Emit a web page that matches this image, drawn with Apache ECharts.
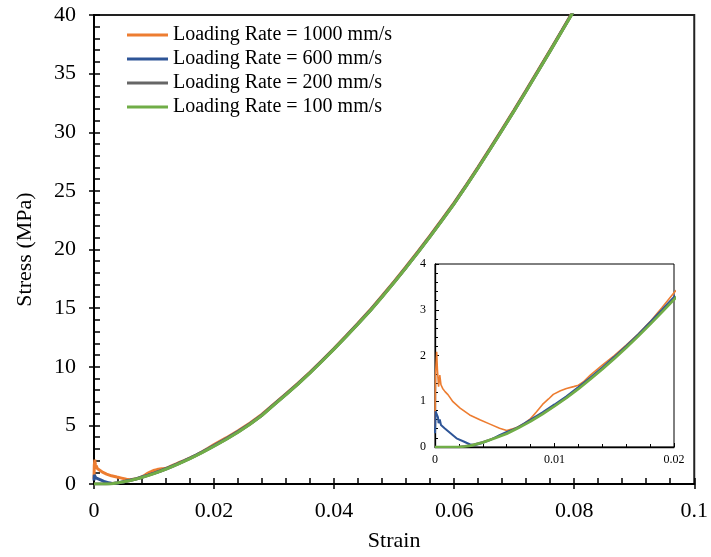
<!DOCTYPE html>
<html>
<head>
<meta charset="utf-8">
<script src="https://cdn.jsdelivr.net/npm/echarts@6/dist/echarts.min.js"></script>
<style>
  html, body { margin: 0; padding: 0; background: #fff; }
  #chart { width: 711px; height: 557px; }
</style>
</head>
<body>
<div id="chart"></div>
<script>
// Stress-strain curves at four loading rates (strain, stress in MPa)
const seriesNames = [
  'Loading Rate = 1000 mm/s',
  'Loading Rate = 600 mm/s',
  'Loading Rate = 200 mm/s',
  'Loading Rate = 100 mm/s'
];

// Low-strain part (0 - 0.02), where the rates differ
const strainLow1000 = [0, 0.00005, 0.00014, 0.0002, 0.0003, 0.0004, 0.0005, 0.00064, 0.00084, 0.0011, 0.0015, 0.0021, 0.0029, 0.0038, 0.0046, 0.0054, 0.006, 0.0068, 0.0075, 0.008, 0.0085, 0.009, 0.0095, 0.0099, 0.0105, 0.011, 0.0116, 0.012, 0.0124, 0.013, 0.014, 0.015, 0.016, 0.017, 0.018, 0.019, 0.02];
const stressLow1000 = [0.44, 1.6, 2.08, 1.7, 1.32, 1.57, 1.36, 1.28, 1.21, 1.14, 0.99, 0.85, 0.70, 0.59, 0.50, 0.41, 0.36, 0.42, 0.52, 0.62, 0.77, 0.93, 1.05, 1.15, 1.23, 1.28, 1.32, 1.35, 1.42, 1.57, 1.79, 2.0, 2.23, 2.47, 2.74, 3.05, 3.37];

const strainLow600 = [0, 0.00005, 0.0001, 0.0002, 0.00025, 0.0003, 0.0004, 0.0005, 0.0008, 0.0013, 0.0018, 0.0024, 0.0029, 0.0033, 0.0039, 0.0046, 0.0054, 0.006, 0.0065, 0.007, 0.008, 0.009, 0.01, 0.011, 0.012, 0.013, 0.014, 0.015, 0.016, 0.017, 0.018, 0.019, 0.02];
const stressLow600 = [0.30, 0.78, 0.81, 0.80, 0.65, 0.52, 0.60, 0.48, 0.41, 0.30, 0.19, 0.12, 0.06, 0.04, 0.08, 0.15, 0.26, 0.33, 0.38, 0.44, 0.60, 0.76, 0.93, 1.11, 1.31, 1.52, 1.74, 1.97, 2.21, 2.46, 2.73, 3.00, 3.28];

const strainLow200 = [0, 0.001, 0.002, 0.0025, 0.003, 0.004, 0.005, 0.006, 0.007, 0.008, 0.009, 0.01, 0.011, 0.012, 0.013, 0.014, 0.015, 0.016, 0.017, 0.018, 0.019, 0.02];
const stressLow200 = [0, 0, 0.005, 0.02, 0.04, 0.11, 0.20, 0.30, 0.43, 0.57, 0.73, 0.90, 1.08, 1.28, 1.49, 1.71, 1.94, 2.18, 2.43, 2.69, 2.96, 3.24];

const strainLow100 = [0, 0.001, 0.002, 0.0025, 0.003, 0.004, 0.005, 0.006, 0.007, 0.008, 0.009, 0.01, 0.011, 0.012, 0.013, 0.014, 0.015, 0.016, 0.017, 0.018, 0.019, 0.02];
const stressLow100 = [0, 0, 0, 0.01, 0.03, 0.10, 0.19, 0.29, 0.42, 0.56, 0.72, 0.89, 1.07, 1.27, 1.48, 1.70, 1.93, 2.17, 2.42, 2.68, 2.95, 3.22];

// High-strain part (0.022 - 0.08), where the curves coincide
const strainHigh = [0.022, 0.024, 0.026, 0.028, 0.030, 0.032, 0.034, 0.036, 0.038, 0.040, 0.042, 0.044, 0.046, 0.048, 0.050, 0.052, 0.054, 0.056, 0.058, 0.060, 0.062, 0.064, 0.066, 0.068, 0.070, 0.072, 0.074, 0.076, 0.078, 0.080];
const stressHigh1000 = [3.93, 4.54, 5.21, 5.95, 6.84, 7.70, 8.60, 9.55, 10.55, 11.58, 12.64, 13.73, 14.85, 16.05, 17.28, 18.55, 19.86, 21.20, 22.58, 24.00, 25.50, 27.05, 28.65, 30.27, 31.92, 33.60, 35.30, 37.02, 38.75, 40.50];
const stressHigh600 = [3.85, 4.47, 5.14, 5.89, 6.79, 7.66, 8.56, 9.51, 10.51, 11.54, 12.60, 13.69, 14.80, 16.00, 17.22, 18.49, 19.80, 21.14, 22.52, 23.94, 25.44, 26.99, 28.59, 30.21, 31.86, 33.54, 35.24, 36.96, 38.69, 40.44];
const stressHigh200 = [3.82, 4.44, 5.12, 5.87, 6.77, 7.64, 8.54, 9.49, 10.49, 11.52, 12.58, 13.67, 14.77, 15.97, 17.20, 18.47, 19.78, 21.12, 22.50, 23.92, 25.42, 26.97, 28.57, 30.19, 31.84, 33.52, 35.22, 36.94, 38.67, 40.42];
const stressHigh100 = [3.80, 4.42, 5.10, 5.85, 6.75, 7.62, 8.52, 9.47, 10.47, 11.50, 12.56, 13.65, 14.75, 15.95, 17.18, 18.45, 19.76, 21.10, 22.48, 23.90, 25.40, 26.95, 28.55, 30.17, 31.82, 33.50, 35.20, 36.92, 38.65, 40.40];

const colors = ['#ED7D31', '#2E5597', '#666666', '#70AD47'];

const FONT = '"Liberation Serif", "Times New Roman", serif';

function pairs(xs, ys) {
  return xs.map((x, i) => [x, ys[i]]);
}

const curves = [
  pairs(strainLow1000.concat(strainHigh), stressLow1000.concat(stressHigh1000)),
  pairs(strainLow600.concat(strainHigh), stressLow600.concat(stressHigh600)),
  pairs(strainLow200.concat(strainHigh), stressLow200.concat(stressHigh200)),
  pairs(strainLow100.concat(strainHigh), stressLow100.concat(stressHigh100))
];

const mainWidths = [3, 3, 3, 3];
const insetWidths = [1.6, 2, 2, 2.6];

const series = [];
curves.forEach((data, i) => {
  series.push({
    name: seriesNames[i], type: 'line', data: data,
    xAxisIndex: 0, yAxisIndex: 0, showSymbol: false, z: 3,
    lineStyle: { color: colors[i], width: mainWidths[i] },
    itemStyle: { color: colors[i] }
  });
});
curves.forEach((data, i) => {
  series.push({
    name: seriesNames[i], type: 'line', data: data,
    xAxisIndex: 2, yAxisIndex: 2, showSymbol: false, z: 22,
    lineStyle: { color: colors[i], width: insetWidths[i] },
    itemStyle: { color: colors[i] }
  });
});

const numFmt = v => String(parseFloat(v.toFixed(4)));

const chart = echarts.init(document.getElementById('chart'), null, { renderer: 'canvas' });
chart.setOption({
  animation: false,
  backgroundColor: '#fff',
  textStyle: { fontFamily: FONT },
  legend: {
    data: seriesNames,
    orient: 'vertical',
    left: 127, top: 23, padding: 0,
    icon: 'rect',
    itemWidth: 41, itemHeight: 3, itemGap: 0,
    textStyle: { fontFamily: FONT, fontSize: 20, color: '#000', lineHeight: 24 }
  },
  grid: [
    { left: 94, top: 15, right: 14, bottom: 70, show: true, borderColor: '#222', borderWidth: 2, backgroundColor: 'transparent' },
    { left: 435, top: 264, width: 239, height: 183, show: true, borderColor: '#000', borderWidth: 1, backgroundColor: '#fff', z: 20 }
  ],
  xAxis: [
    {
      gridIndex: 0, type: 'value', min: 0, max: 0.1, interval: 0.02,
      name: 'Strain', nameLocation: 'middle', nameGap: 46,
      nameTextStyle: { fontFamily: FONT, fontSize: 22, color: '#000' },
      axisLine: { onZero: false, lineStyle: { color: '#000', width: 2 } },
      axisTick: { inside: true, length: 6, lineStyle: { color: '#000', width: 1.5 } },
      minorTick: { show: true, splitNumber: 5, length: 6, lineStyle: { color: '#000', width: 1.5 } },
      axisLabel: { fontFamily: FONT, fontSize: 22, color: '#000', margin: 16, formatter: numFmt },
      splitLine: { show: false }
    },
    {
      gridIndex: 0, type: 'value', min: 0, max: 0.1, interval: 0.02, position: 'bottom',
      axisLine: { show: false },
      axisTick: { inside: false, length: 5, lineStyle: { color: '#000', width: 1.5 } },
      axisLabel: { show: false }, splitLine: { show: false }
    },
    {
      gridIndex: 1, type: 'value', min: 0, max: 0.02, interval: 0.01, z: 21,
      axisLine: { onZero: false, lineStyle: { color: '#000', width: 1.3 } },
      axisTick: { inside: true, length: 4, lineStyle: { color: '#000', width: 1 } },
      minorTick: { show: true, splitNumber: 5, length: 3, lineStyle: { color: '#000', width: 1 } },
      axisLabel: { fontFamily: FONT, fontSize: 12, color: '#000', margin: 7, formatter: numFmt },
      splitLine: { show: false }
    }
  ],
  yAxis: [
    {
      gridIndex: 0, type: 'value', min: 0, max: 40, interval: 5,
      name: 'Stress (MPa)', nameLocation: 'middle', nameGap: 58, nameRotate: 90,
      nameTextStyle: { fontFamily: FONT, fontSize: 22, color: '#000' },
      axisLine: { onZero: false, lineStyle: { color: '#000', width: 2 } },
      axisTick: { inside: true, length: 6, lineStyle: { color: '#000', width: 1.5 } },
      minorTick: { show: true, splitNumber: 5, length: 6, lineStyle: { color: '#000', width: 1.5 } },
      axisLabel: { fontFamily: FONT, fontSize: 22, color: '#000', margin: 18 },
      splitLine: { show: false }
    },
    {
      gridIndex: 0, type: 'value', min: 0, max: 40, interval: 5, position: 'left',
      axisLine: { show: false },
      axisTick: { inside: false, length: 5, lineStyle: { color: '#000', width: 1.5 } },
      axisLabel: { show: false }, splitLine: { show: false }
    },
    {
      gridIndex: 1, type: 'value', min: 0, max: 4, interval: 1, z: 21,
      axisLine: { onZero: false, lineStyle: { color: '#000', width: 1.3 } },
      axisTick: { inside: true, length: 4, lineStyle: { color: '#000', width: 1 } },
      minorTick: { show: true, splitNumber: 5, length: 3, lineStyle: { color: '#000', width: 1 } },
      axisLabel: { fontFamily: FONT, fontSize: 12, color: '#000', margin: 9 },
      splitLine: { show: false }
    }
  ],
  series: series
});
</script>
</body>
</html>
